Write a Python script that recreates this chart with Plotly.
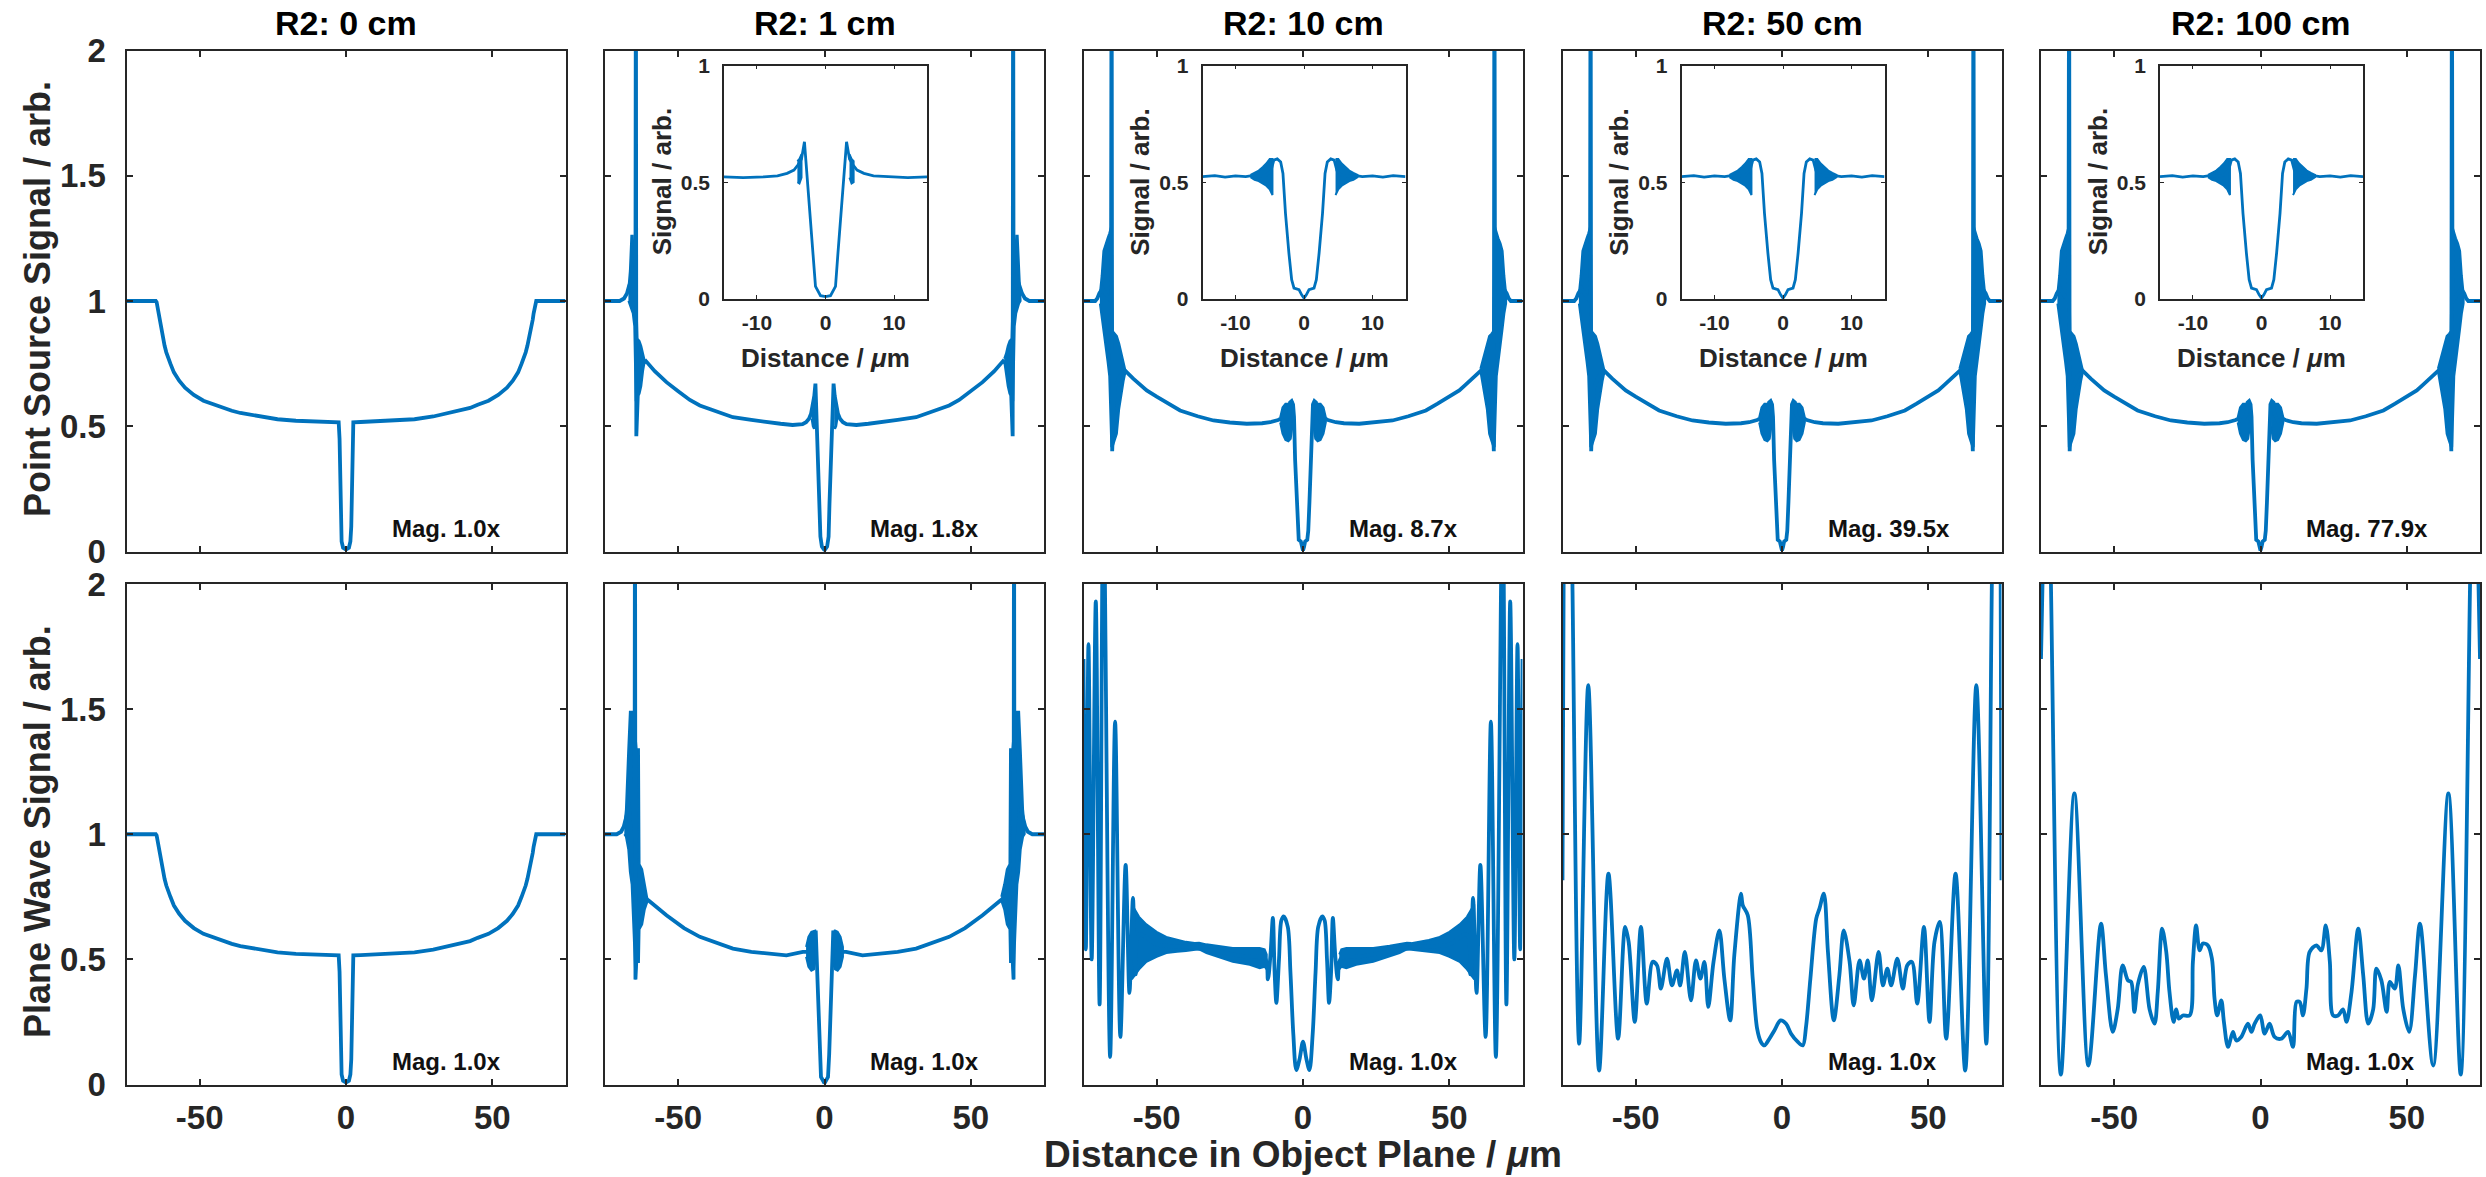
import plotly.graph_objects as go

# ---------------------------------------------------------------- data
COL_TITLES = ["R2: 0 cm", "R2: 1 cm", "R2: 10 cm", "R2: 50 cm", "R2: 100 cm"]
MAG_POINT = ["Mag. 1.0x", "Mag. 1.8x", "Mag. 8.7x", "Mag. 39.5x", "Mag. 77.9x"]
MAG_PLANE = ["Mag. 1.0x", "Mag. 1.0x", "Mag. 1.0x", "Mag. 1.0x", "Mag. 1.0x"]
MAIN_XTICKS = [-50, 0, 50]
MAIN_XTICKTEXT = ["-50", "0", "50"]
MAIN_YTICKS = [0, 0.5, 1, 1.5, 2]
MAIN_YTICKTEXT = ["0", "0.5", "1", "1.5", "2"]
INSET_XTICKS = [-10, 0, 10]
INSET_XTICKTEXT = ["-10", "0", "10"]
INSET_YTICKS = [0, 0.5, 1]
INSET_YTICKTEXT = ["0", "0.5", "1"]

# R2 = 0 cm (identical for point source and plane wave)
ZERO_PTS = [(-75.0, 1.0), (-65.0, 1.0), (-64.7, 0.995), (-64.4, 0.975), (-64.1, 0.95), (-63.8, 0.925),
            (-63.4, 0.90), (-63.0, 0.875), (-62.5, 0.848), (-62.0, 0.822), (-61.4, 0.795), (-60.7, 0.77),
            (-60.0, 0.75), (-58.8, 0.715), (-57.0, 0.682), (-55.0, 0.654), (-52.0, 0.625), (-48.7, 0.602),
            (-45.0, 0.586), (-42.4, 0.573), (-39.0, 0.562), (-36.1, 0.553), (-32.0, 0.545), (-29.8, 0.539),
            (-23.4, 0.528), (-17.1, 0.522), (-10.8, 0.520), (-5.0, 0.517), (-2.5, 0.516), (-2.2, 0.45),
            (-2.0, 0.25), (-1.8, 0.10), (-1.5, 0.04), (-1.0, 0.015), (0.0, 0.008), (1.0, 0.015),
            (1.5, 0.04), (1.8, 0.10), (2.0, 0.25), (2.2, 0.45), (2.5, 0.516), (5.0, 0.517), (10.8, 0.520),
            (17.1, 0.522), (23.4, 0.528), (29.8, 0.539), (32.0, 0.545), (36.1, 0.553), (39.0, 0.562),
            (42.4, 0.573), (45.0, 0.586), (48.7, 0.602), (52.0, 0.625), (55.0, 0.654), (57.0, 0.682),
            (58.8, 0.715), (60.0, 0.75), (60.7, 0.77), (61.4, 0.795), (62.0, 0.822), (62.5, 0.848),
            (63.0, 0.875), (63.4, 0.90), (63.8, 0.925), (64.1, 0.95), (64.4, 0.975), (64.7, 0.995),
            (65.0, 1.0), (75.0, 1.0)]

# Point source, R2 = 1 cm
PS1_PTS = [(-75.0, 1.0), (-70.0, 1.0), (-68.5, 1.01), (-67.5, 1.03), (-66.8, 1.06), (-65.5, 1.1),
           (-64.6, 1.0), (-64.45, 2.6), (-64.3, 0.46), (-63.5, 0.72), (-62.0, 0.75), (-61.0, 0.76),
           (-58.0, 0.72), (-54.0, 0.676), (-50.0, 0.64), (-46.0, 0.605), (-42.6, 0.583), (-37.0, 0.56),
           (-31.3, 0.536), (-25.0, 0.525), (-19.9, 0.516), (-15.0, 0.51), (-10.9, 0.505), (-7.5, 0.508),
           (-6.3, 0.516), (-5.3, 0.53), (-4.6, 0.55), (-4.0, 0.58), (-3.5, 0.62), (-3.1, 0.67),
           (-2.6, 0.50), (-2.1, 0.34), (-1.7, 0.19), (-1.4, 0.06), (-0.9, 0.02), (0.0, 0.005),
           (0.9, 0.02), (1.4, 0.06), (1.7, 0.19), (2.1, 0.34), (2.6, 0.50), (3.1, 0.67), (3.5, 0.62),
           (4.0, 0.58), (4.6, 0.55), (5.3, 0.53), (6.3, 0.516), (7.5, 0.508), (10.9, 0.505), (15.0, 0.51),
           (19.9, 0.516), (25.0, 0.525), (31.3, 0.536), (37.0, 0.56), (42.6, 0.583), (46.0, 0.605),
           (50.0, 0.64), (54.0, 0.676), (58.0, 0.72), (61.0, 0.76), (62.0, 0.75), (63.5, 0.72),
           (64.3, 0.46), (64.45, 2.6), (64.6, 1.0), (65.5, 1.1), (66.8, 1.06), (67.5, 1.03),
           (68.5, 1.01), (70.0, 1.0), (75.0, 1.0)]
# dense-oscillation envelopes: (x, upper, lower)
PS1_BANDS = [
    [(-67.0, 1.05, 1.00), (-66.5, 1.12, 0.99), (-66.0, 1.26, 0.97), (-65.5, 1.26, 0.95), (-65.0, 1.12, 0.90),
     (-64.5, 1.10, 0.60), (-63.9, 0.85, 0.62), (-63.2, 0.84, 0.63), (-62.6, 0.82, 0.66), (-62.0, 0.79, 0.72),
     (-61.4, 0.77, 0.76)],
    [(-4.4, 0.56, 0.53), (-4.0, 0.60, 0.50), (-3.6, 0.62, 0.49), (-3.3, 0.64, 0.50)],
    [(3.3, 0.64, 0.50), (3.6, 0.62, 0.49), (4.0, 0.60, 0.50), (4.4, 0.56, 0.53)],
    [(61.4, 0.77, 0.76), (62.0, 0.79, 0.72), (62.6, 0.82, 0.66), (63.2, 0.84, 0.63), (63.9, 0.85, 0.62),
     (64.5, 1.10, 0.60), (65.0, 1.12, 0.90), (65.5, 1.26, 0.95), (66.0, 1.26, 0.97), (66.5, 1.12, 0.99),
     (67.0, 1.05, 1.00)],
]

# Point source, R2 = 10 / 50 / 100 cm (same profile in the object plane)
PSF_PTS = [(-75.0, 1.0), (-71.0, 1.0), (-70.3, 1.01), (-69.6, 1.03), (-68.5, 1.05), (-67.0, 1.02),
           (-65.6, 1.0), (-65.4, 2.6), (-65.2, 0.40), (-64.4, 0.65), (-62.5, 0.70), (-60.6, 0.72),
           (-58.0, 0.69), (-55.5, 0.665), (-53.4, 0.643), (-50.0, 0.618), (-46.0, 0.59), (-42.0, 0.563),
           (-36.0, 0.54), (-30.6, 0.523), (-25.0, 0.515), (-19.2, 0.51), (-14.0, 0.512), (-11.2, 0.516),
           (-8.5, 0.525), (-7.6, 0.53), (-6.0, 0.52), (-4.7, 0.55), (-4.4, 0.595), (-3.9, 0.60),
           (-3.4, 0.587), (-3.07, 0.538), (-2.7, 0.367), (-2.2, 0.196), (-1.8, 0.083), (-1.46, 0.047),
           (-0.73, 0.04), (-0.34, 0.018), (0.0, 0.004), (0.34, 0.018), (0.73, 0.04), (1.46, 0.047),
           (1.8, 0.083), (2.2, 0.196), (2.7, 0.367), (3.07, 0.538), (3.4, 0.587), (3.9, 0.60),
           (4.4, 0.595), (4.7, 0.55), (6.0, 0.52), (7.6, 0.53), (8.5, 0.525), (11.2, 0.516),
           (14.0, 0.512), (19.2, 0.51), (25.0, 0.515), (30.6, 0.523), (36.0, 0.54), (42.0, 0.563),
           (46.0, 0.59), (50.0, 0.618), (53.4, 0.643), (55.5, 0.665), (58.0, 0.69), (60.6, 0.72),
           (62.5, 0.70), (64.4, 0.65), (65.2, 0.40), (65.4, 2.6), (65.6, 1.0), (67.0, 1.02),
           (68.5, 1.05), (69.6, 1.03), (70.3, 1.01), (71.0, 1.0), (75.0, 1.0)]
PSF_BANDS = [
    [(-69.4, 1.03, 0.99), (-68.8, 1.10, 0.95), (-68.2, 1.20, 0.89), (-67.5, 1.23, 0.82), (-66.8, 1.25, 0.76),
     (-66.2, 1.27, 0.70), (-65.5, 1.30, 0.42), (-65.0, 0.88, 0.42), (-64.4, 0.87, 0.44), (-63.6, 0.86, 0.47),
     (-62.8, 0.83, 0.57), (-62.0, 0.79, 0.63), (-61.3, 0.76, 0.68), (-60.6, 0.73, 0.72)],
    [(-7.8, 0.535, 0.515), (-7.0, 0.575, 0.47), (-6.0, 0.59, 0.445), (-5.0, 0.59, 0.44), (-4.2, 0.595, 0.45),
     (-3.6, 0.60, 0.50)],
    [(3.6, 0.60, 0.50), (4.2, 0.595, 0.45), (5.0, 0.59, 0.44), (6.0, 0.59, 0.445), (7.0, 0.575, 0.47),
     (7.8, 0.535, 0.515)],
    [(60.6, 0.73, 0.72), (61.3, 0.76, 0.68), (62.0, 0.79, 0.63), (62.8, 0.83, 0.57), (63.6, 0.86, 0.47),
     (64.4, 0.87, 0.44), (65.0, 0.88, 0.42), (65.5, 1.30, 0.42), (66.2, 1.27, 0.70), (66.8, 1.25, 0.76),
     (67.5, 1.23, 0.82), (68.2, 1.20, 0.89), (68.8, 1.10, 0.95), (69.4, 1.03, 0.99)],
]

# Insets (point source, zoom on the centre)
INSET1_PTS = [(-14.8, 0.523), (-12.0, 0.52), (-9.0, 0.523), (-7.0, 0.527), (-5.6, 0.538), (-4.6, 0.552),
              (-4.0, 0.575), (-3.5, 0.60), (-3.07, 0.673), (-2.7, 0.53), (-2.2, 0.34), (-1.8, 0.19),
              (-1.46, 0.054), (-0.73, 0.014), (0.0, 0.01), (0.73, 0.014), (1.46, 0.054), (1.8, 0.19),
              (2.2, 0.34), (2.7, 0.53), (3.07, 0.673), (3.5, 0.60), (4.0, 0.575), (4.6, 0.552),
              (5.6, 0.538), (7.0, 0.527), (9.0, 0.523), (12.0, 0.52), (14.8, 0.523)]
INSET1_BANDS = [
    [(-4.1, 0.59, 0.50), (-3.8, 0.60, 0.495), (-3.5, 0.62, 0.52)],
    [(3.5, 0.62, 0.52), (3.8, 0.60, 0.495), (4.1, 0.59, 0.50)],
]
INSETF_PTS = [(-14.8, 0.524), (-13.0, 0.528), (-11.5, 0.522), (-10.0, 0.527), (-8.5, 0.524), (-7.6, 0.528),
              (-6.5, 0.525), (-5.5, 0.53), (-4.8, 0.55), (-4.4, 0.595), (-3.9, 0.60), (-3.4, 0.587),
              (-3.07, 0.538), (-2.7, 0.367), (-2.2, 0.196), (-1.8, 0.083), (-1.46, 0.047), (-0.73, 0.04),
              (-0.34, 0.018), (0.0, 0.004), (0.34, 0.018), (0.73, 0.04), (1.46, 0.047), (1.8, 0.083),
              (2.2, 0.196), (2.7, 0.367), (3.07, 0.538), (3.4, 0.587), (3.9, 0.60), (4.4, 0.595),
              (4.8, 0.55), (5.5, 0.53), (6.5, 0.525), (7.6, 0.528), (8.5, 0.524), (10.0, 0.527),
              (11.5, 0.522), (13.0, 0.528), (14.8, 0.524)]
INSETF_BANDS = [
    [(-7.8, 0.532, 0.522), (-7.2, 0.54, 0.51), (-6.6, 0.55, 0.505), (-6.0, 0.565, 0.495), (-5.5, 0.58, 0.485),
     (-5.0, 0.60, 0.47), (-4.6, 0.60, 0.445)],
    [(4.6, 0.60, 0.445), (5.0, 0.60, 0.47), (5.5, 0.58, 0.485), (6.0, 0.565, 0.495), (6.6, 0.55, 0.505),
     (7.2, 0.54, 0.51), (7.8, 0.532, 0.522)],
]

# Plane wave, R2 = 1 cm
PW1_PTS = [(-75.0, 1.0), (-71.0, 1.0), (-69.5, 1.01), (-68.6, 1.03), (-67.5, 1.08), (-66.0, 1.2),
           (-64.9, 1.0), (-64.75, 2.6), (-64.6, 0.42), (-63.5, 0.70), (-61.5, 0.75), (-60.2, 0.736),
           (-54.0, 0.676), (-48.0, 0.625), (-42.6, 0.59), (-37.0, 0.565), (-31.3, 0.543), (-25.0, 0.53),
           (-19.9, 0.523), (-13.0, 0.516), (-7.4, 0.53), (-6.0, 0.53), (-4.5, 0.54), (-3.5, 0.58),
           (-3.0, 0.615), (-2.5, 0.45), (-2.0, 0.30), (-1.6, 0.12), (-1.2, 0.03), (0.0, 0.005),
           (1.2, 0.03), (1.6, 0.12), (2.0, 0.30), (2.5, 0.45), (3.0, 0.615), (3.5, 0.58), (4.5, 0.54),
           (6.0, 0.53), (7.4, 0.53), (13.0, 0.516), (19.9, 0.523), (25.0, 0.53), (31.3, 0.543),
           (37.0, 0.565), (42.6, 0.59), (48.0, 0.625), (54.0, 0.676), (60.2, 0.736), (61.5, 0.75),
           (63.5, 0.70), (64.6, 0.42), (64.75, 2.6), (64.9, 1.0), (66.0, 1.2), (67.5, 1.08),
           (68.6, 1.03), (69.5, 1.01), (71.0, 1.0), (75.0, 1.0)]
PW1_BANDS = [
    [(-68.4, 1.03, 1.00), (-67.85, 1.10, 0.99), (-67.05, 1.34, 0.94), (-66.5, 1.49, 0.85), (-65.9, 1.49, 0.80),
     (-65.2, 1.49, 0.60), (-64.6, 1.40, 0.42), (-64.2, 1.34, 0.49), (-63.4, 1.34, 0.49), (-63.2, 0.88, 0.62),
     (-62.3, 0.86, 0.64), (-61.4, 0.80, 0.70), (-60.4, 0.75, 0.735)],
    [(-6.3, 0.55, 0.51), (-5.5, 0.59, 0.47), (-4.5, 0.61, 0.455), (-3.6, 0.615, 0.46), (-3.2, 0.615, 0.52)],
    [(3.2, 0.615, 0.52), (3.6, 0.615, 0.46), (4.5, 0.61, 0.455), (5.5, 0.59, 0.47), (6.3, 0.55, 0.51)],
    [(60.4, 0.75, 0.735), (61.4, 0.80, 0.70), (62.3, 0.86, 0.64), (63.2, 0.88, 0.62), (63.4, 1.34, 0.49),
     (64.2, 1.34, 0.49), (64.6, 1.40, 0.42), (65.2, 1.49, 0.60), (65.9, 1.49, 0.80), (66.5, 1.49, 0.85),
     (67.05, 1.34, 0.94), (67.85, 1.10, 0.99), (68.4, 1.03, 1.00)],
]

# Plane wave, R2 = 10 cm
PW10_PTS = [(-75.0, 1.70), (-74.2, 0.54), (-73.3, 1.76), (-72.2, 0.50), (-70.8, 1.93), (-69.5, 0.32),
            (-68.2, 2.4), (-65.9, 0.11), (-64.2, 1.45), (-62.4, 0.19), (-60.6, 0.878), (-59.3, 0.366),
            (-58.1, 0.746), (-57.2, 0.44), (-56.0, 0.60), (-50.0, 0.56), (-40.0, 0.55), (-30.0, 0.533),
            (-20.0, 0.512), (-13.0, 0.505), (-12.0, 0.42), (-11.1, 0.52), (-10.3, 0.666), (-9.7, 0.45),
            (-9.1, 0.326), (-8.2, 0.50), (-7.4, 0.655), (-6.6, 0.672), (-5.2, 0.63), (-4.3, 0.45),
            (-3.3, 0.20), (-2.3, 0.058), (-1.2, 0.10), (0.0, 0.171), (1.2, 0.10), (2.2, 0.058), (3.3, 0.20),
            (4.3, 0.45), (5.2, 0.63), (6.6, 0.672), (7.4, 0.655), (8.2, 0.50), (8.9, 0.326), (9.6, 0.45),
            (10.2, 0.666), (11.0, 0.52), (11.9, 0.42), (13.0, 0.505), (20.0, 0.512), (30.0, 0.533),
            (40.0, 0.55), (50.0, 0.56), (56.0, 0.60), (57.2, 0.44), (58.1, 0.746), (59.3, 0.366),
            (60.6, 0.878), (62.4, 0.19), (64.2, 1.45), (65.9, 0.11), (68.2, 2.4), (69.5, 0.32),
            (70.8, 1.93), (72.2, 0.50), (73.3, 1.76), (74.2, 0.54), (75.0, 1.70)]
PW10_BANDS = [
    [(-58.5, 0.72, 0.42), (-56.0, 0.67, 0.46), (-53.5, 0.64, 0.49), (-50.0, 0.61, 0.51), (-46.7, 0.59, 0.525),
     (-43.0, 0.578, 0.53), (-40.0, 0.57, 0.533), (-37.0, 0.565, 0.537), (-35.5, 0.566, 0.54),
     (-33.0, 0.56, 0.525), (-29.6, 0.554, 0.511), (-24.0, 0.545, 0.49), (-18.2, 0.545, 0.478),
     (-14.8, 0.545, 0.465), (-13.1, 0.54, 0.47), (-12.4, 0.52, 0.46)],
    [(12.4, 0.52, 0.46), (13.1, 0.54, 0.47), (14.8, 0.545, 0.465), (18.2, 0.545, 0.478), (24.0, 0.545, 0.49),
     (29.6, 0.554, 0.511), (33.0, 0.56, 0.525), (35.5, 0.566, 0.54), (37.0, 0.565, 0.537), (40.0, 0.57, 0.533),
     (43.0, 0.578, 0.53), (46.7, 0.59, 0.525), (50.0, 0.61, 0.51), (53.5, 0.64, 0.49), (56.0, 0.67, 0.46),
     (58.5, 0.72, 0.42)],
]

# Plane wave, R2 = 50 cm
PW50_PTS = [(-75.0, 0.816), (-74.6, 2.05), (-73.1, 3.5), (-71.6, 2.0), (-69.3, 0.163), (-66.2, 1.596),
            (-62.5, 0.056), (-59.3, 0.843), (-56.0, 0.183), (-53.6, 0.63), (-52.4, 0.57), (-50.3, 0.25),
            (-48.2, 0.63), (-46.2, 0.323), (-44.2, 0.49), (-42.7, 0.476), (-41.4, 0.383), (-39.3, 0.503),
            (-37.6, 0.396), (-35.9, 0.456), (-34.8, 0.396), (-33.2, 0.53), (-31.1, 0.336), (-29.4, 0.496),
            (-27.9, 0.423), (-26.5, 0.49), (-25.2, 0.31), (-23.4, 0.49), (-21.4, 0.616), (-19.7, 0.423),
            (-17.7, 0.256), (-16.3, 0.516), (-14.0, 0.763), (-13.4, 0.716), (-11.7, 0.676), (-10.0, 0.423),
            (-8.5, 0.223), (-7.2, 0.17), (-6.0, 0.156), (-4.3, 0.183), (-2.6, 0.216), (-0.5, 0.256),
            (1.4, 0.243), (3.1, 0.203), (5.4, 0.17), (7.1, 0.156), (8.2, 0.23), (9.7, 0.423), (11.7, 0.663),
            (12.8, 0.703), (14.3, 0.763), (15.7, 0.53), (17.7, 0.256), (19.6, 0.436), (21.1, 0.616),
            (23.1, 0.49), (24.5, 0.316), (26.5, 0.496), (28.0, 0.423), (29.3, 0.496), (30.7, 0.336),
            (33.0, 0.53), (34.5, 0.396), (36.0, 0.463), (37.3, 0.396), (39.4, 0.503), (41.3, 0.383),
            (42.8, 0.476), (44.4, 0.49), (46.2, 0.323), (48.5, 0.63), (50.4, 0.25), (52.1, 0.57),
            (53.9, 0.65), (56.1, 0.183), (59.3, 0.843), (62.6, 0.056), (66.4, 1.596), (69.8, 0.163),
            (71.7, 2.0), (73.2, 3.5), (74.7, 2.05), (75.0, 0.816)]

# Plane wave, R2 = 100 cm
PW100_PTS = [(-75.0, 1.70), (-74.4, 2.05), (-73.0, 3.2), (-71.6, 2.0), (-68.2, 0.04), (-63.6, 1.163),
             (-58.8, 0.076), (-54.5, 0.643), (-52.8, 0.436), (-50.5, 0.21), (-48.8, 0.30), (-47.1, 0.476),
             (-45.3, 0.416), (-44.2, 0.41), (-43.1, 0.29), (-41.9, 0.40), (-39.9, 0.47), (-37.9, 0.30),
             (-36.2, 0.243), (-35.1, 0.37), (-33.6, 0.623), (-32.2, 0.53), (-31.1, 0.37), (-29.7, 0.25),
             (-28.8, 0.30), (-27.9, 0.263), (-26.5, 0.276), (-24.2, 0.276), (-23.1, 0.49), (-22.0, 0.636),
             (-20.8, 0.536), (-19.7, 0.563), (-18.0, 0.556), (-16.6, 0.503), (-15.7, 0.343), (-14.8, 0.276),
             (-13.4, 0.336), (-12.5, 0.25), (-11.1, 0.15), (-9.4, 0.21), (-8.3, 0.176), (-6.6, 0.19),
             (-4.3, 0.243), (-3.1, 0.21), (-2.0, 0.243), (-0.1, 0.276), (1.4, 0.203), (3.1, 0.243),
             (4.8, 0.19), (7.1, 0.183), (9.4, 0.21), (11.1, 0.15), (12.3, 0.33), (13.4, 0.33), (14.5, 0.276),
             (15.7, 0.383), (16.8, 0.53), (19.1, 0.556), (20.8, 0.536), (22.3, 0.636), (23.7, 0.49),
             (24.8, 0.276), (26.5, 0.276), (28.2, 0.30), (29.4, 0.25), (31.1, 0.37), (33.4, 0.623),
             (35.1, 0.436), (36.8, 0.243), (38.5, 0.30), (39.6, 0.463), (41.3, 0.416), (43.1, 0.29),
             (44.2, 0.41), (45.9, 0.383), (47.1, 0.476), (48.8, 0.30), (50.8, 0.21), (52.8, 0.436),
             (54.5, 0.643), (59.0, 0.076), (64.2, 1.163), (68.4, 0.04), (71.6, 2.0), (73.0, 3.2),
             (74.4, 2.05), (75.0, 1.70)]

# ---------------------------------------------------------------- layout constants
W, H = 2486, 1177
FONT = "Liberation Sans, Arial, Helvetica, sans-serif"
BLUE = "#0072BD"
AXC = "#262626"
COL_LEFT = [126.5, 605.0, 1083.5, 1562.5, 2041.0]
PANEL_W = 439.0
ROW_TOP = [50.5, 584.0]
ROW_BOT = [551.5, 1084.5]
INSET_DX, INSET_W, INSET_TOP, INSET_BOT = 119.0, 203.0, 65.5, 299.0
MAIN_LW = 3.8
INSET_LW = 2.8


def fx(px):
    return px / W


def fy(py):
    return 1 - py / H


fig = go.Figure()
layout = {}


def axname(k, kind):
    return kind + ("" if k == 1 else str(k))


def add_line(pts, k, width, smooth=False):
    xs = [p[0] for p in pts]
    ys = [p[1] for p in pts]
    line = dict(color=BLUE, width=width)
    if smooth:
        line.update(shape="spline", smoothing=0.9)
    fig.add_trace(go.Scatter(x=xs, y=ys, mode="lines", line=line,
                             xaxis=axname(k, "x"), yaxis=axname(k, "y"), hoverinfo="skip",
                             showlegend=False))


def add_band(band, k):
    xs = [b[0] for b in band] + [b[0] for b in band[::-1]]
    ys = [b[1] for b in band] + [b[2] for b in band[::-1]]
    fig.add_trace(go.Scatter(x=xs, y=ys, mode="lines", fill="toself", fillcolor=BLUE,
                             line=dict(color=BLUE, width=2), xaxis=axname(k, "x"),
                             yaxis=axname(k, "y"), hoverinfo="skip", showlegend=False))


tickfont_main = dict(family=FONT, size=33, color=AXC, weight="bold")
tickfont_inset = dict(family=FONT, size=21, color=AXC, weight="bold")

panels = {
    (0, 0): (ZERO_PTS, [], False), (0, 1): (PS1_PTS, PS1_BANDS, False), (0, 2): (PSF_PTS, PSF_BANDS, False),
    (0, 3): (PSF_PTS, PSF_BANDS, False), (0, 4): (PSF_PTS, PSF_BANDS, False),
    (1, 0): (ZERO_PTS, [], False), (1, 1): (PW1_PTS, PW1_BANDS, False), (1, 2): (PW10_PTS, PW10_BANDS, True),
    (1, 3): (PW50_PTS, [], True), (1, 4): (PW100_PTS, [], True),
}

common = dict(showline=True, linecolor=AXC, mirror="ticks", showgrid=False, zeroline=False,
              ticks="inside", tickcolor=AXC, automargin=False, tickmode="array", fixedrange=True)

annotations = []
for r in range(2):
    for c in range(5):
        k = r * 5 + c + 1
        L = COL_LEFT[c]
        layout[axname(k, "xaxis")] = dict(
            common, domain=[fx(L), fx(L + PANEL_W)], anchor=axname(k, "y"), range=[-75, 75],
            tickvals=MAIN_XTICKS, ticktext=MAIN_XTICKTEXT, showticklabels=(r == 1),
            ticklen=6, tickwidth=1.5, linewidth=2, tickfont=tickfont_main, ticklabelstandoff=3)
        layout[axname(k, "yaxis")] = dict(
            common, domain=[fy(ROW_BOT[r]), fy(ROW_TOP[r])], anchor=axname(k, "x"), range=[0, 2],
            tickvals=MAIN_YTICKS, ticktext=MAIN_YTICKTEXT, showticklabels=(c == 0),
            ticklen=6, tickwidth=1.5, linewidth=2, tickfont=tickfont_main, ticklabelstandoff=12)
        pts, bands, smooth = panels[(r, c)]
        for b in bands:
            add_band(b, k)
        add_line(pts, k, MAIN_LW, smooth)
        mag = MAG_POINT[c] if r == 0 else MAG_PLANE[c]
        annotations.append(dict(text=mag, xref=axname(k, "x"), yref=axname(k, "y"), x=15.0, y=0.09,
                                xanchor="left", yanchor="middle", showarrow=False,
                                font=dict(family=FONT, size=24, color="#111111", weight="bold")))

# insets on point-source panels 2..5
for c in range(1, 5):
    k = 10 + c
    L = COL_LEFT[c] + INSET_DX
    layout[axname(k, "xaxis")] = dict(
        common, domain=[fx(L), fx(L + INSET_W)], anchor=axname(k, "y"), range=[-14.8, 14.8],
        tickvals=INSET_XTICKS, ticktext=INSET_XTICKTEXT, ticklen=4, tickwidth=1.2,
        linewidth=1.5, tickfont=tickfont_inset, ticklabelstandoff=4)
    layout[axname(k, "yaxis")] = dict(
        common, domain=[fy(INSET_BOT), fy(INSET_TOP)], anchor=axname(k, "x"), range=[0, 1],
        tickvals=INSET_YTICKS, ticktext=INSET_YTICKTEXT, ticklen=4, tickwidth=1.2,
        linewidth=1.5, tickfont=tickfont_inset, ticklabelstandoff=8)
    ipts, ibands = (INSET1_PTS, INSET1_BANDS) if c == 1 else (INSETF_PTS, INSETF_BANDS)
    for b in ibands:
        add_band(b, k)
    add_line(ipts, k, INSET_LW)
    annotations.append(dict(text="Signal / arb.", xref="paper", yref="paper",
                            x=fx(L - 62), y=fy((INSET_TOP + INSET_BOT) / 2), textangle=-90,
                            xanchor="center", yanchor="middle", showarrow=False,
                            font=dict(family=FONT, size=26, color=AXC, weight="bold")))
    annotations.append(dict(text="Distance / <i>μ</i>m", xref="paper", yref="paper",
                            x=fx(L + INSET_W / 2), y=fy(358), xanchor="center", yanchor="middle",
                            showarrow=False, font=dict(family=FONT, size=26, color=AXC, weight="bold")))

for c in range(5):
    annotations.append(dict(text=COL_TITLES[c], xref="paper", yref="paper",
                            x=fx(COL_LEFT[c] + PANEL_W / 2), y=fy(23), xanchor="center",
                            yanchor="middle", showarrow=False,
                            font=dict(family=FONT, size=34, color="#000000", weight="bold")))

annotations.append(dict(text="Point Source Signal / arb.", xref="paper", yref="paper", x=fx(37),
                        y=fy(299), textangle=-90, xanchor="center", yanchor="middle", showarrow=False,
                        font=dict(family=FONT, size=36, color=AXC, weight="bold")))
annotations.append(dict(text="Plane Wave Signal / arb.", xref="paper", yref="paper", x=fx(37),
                        y=fy(832), textangle=-90, xanchor="center", yanchor="middle", showarrow=False,
                        font=dict(family=FONT, size=36, color=AXC, weight="bold")))
annotations.append(dict(text="Distance in Object Plane / <i>μ</i>m", xref="paper", yref="paper",
                        x=fx(1303), y=0.0, xanchor="center", yanchor="bottom", showarrow=False,
                        font=dict(family=FONT, size=37, color=AXC, weight="bold")))

layout.update(dict(template="none", width=W, height=H, margin=dict(l=0, r=0, t=0, b=0, pad=0),
                   autosize=False, paper_bgcolor="white", plot_bgcolor="white", showlegend=False,
                   annotations=annotations))
fig.update_layout(**layout)
fig.write_html("out.html", config={"displayModeBar": False},
               post_script="document.body.style.margin='0';document.body.style.overflow='hidden';")
